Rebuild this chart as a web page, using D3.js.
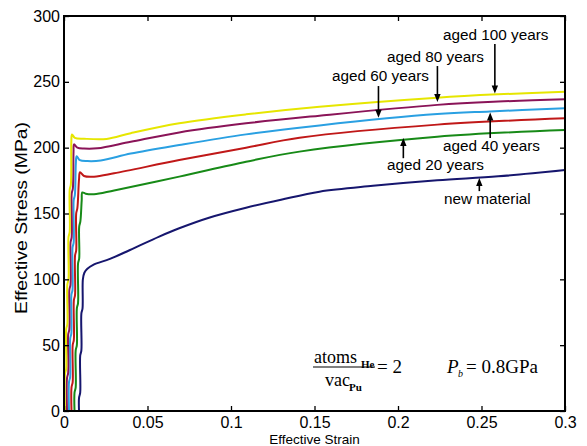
<!DOCTYPE html>
<html><head><meta charset="utf-8">
<script src="https://cdn.jsdelivr.net/npm/d3@7"></script>
<style>body{margin:0;background:#fff}svg{display:block}</style>
</head><body>
<svg id="c" width="587" height="446"></svg>
<script>
// ---- data: [effective strain, effective stress (MPa)] ----
const newMaterial = [[0.009,0],[0.009,10],[0.0097,14],[0.0097,42],[0.0104,46],[0.0104,74],[0.0111,78],[0.0113,100],[0.0122,105],[0.014,108],[0.0175,111],[0.0275,115.5],[0.0395,122.3],[0.057,132.5],[0.069,138.8],[0.0873,147],[0.109,154.4],[0.13,160.5],[0.153,166.6],[0.185,171],[0.2235,175.2],[0.26,178.2],[0.3,183]];
const aged20 = [[0.0063,0],[0.0063,14],[0.007,18],[0.007,46],[0.0077,50],[0.0077,78],[0.0084,82],[0.0084,112],[0.0091,116],[0.0091,140],[0.0098,144],[0.0106,160],[0.011,166],[0.013,165],[0.018,164.6],[0.03,167.5],[0.069,178],[0.109,189.3],[0.141,197],[0.2235,208.3],[0.3,213.4]];
const aged40 = [[0.0045,0],[0.0045,18],[0.0052,22],[0.0052,50],[0.0059,54],[0.0059,84],[0.0066,88],[0.0066,118],[0.0073,122],[0.0073,150],[0.008,154],[0.009,176],[0.0096,181.3],[0.012,178.5],[0.018,178],[0.03,180.5],[0.069,190.6],[0.109,200],[0.141,207.5],[0.2235,217.5],[0.3,222.3]];
const aged60 = [[0.003,0],[0.003,22],[0.0037,26],[0.0037,55],[0.0044,59],[0.0044,88],[0.0051,92],[0.0051,124],[0.0058,128],[0.0058,160],[0.0065,164],[0.0071,188],[0.0076,193.5],[0.0095,190.5],[0.014,189.8],[0.022,190.2],[0.04,195.5],[0.069,202],[0.109,210.1],[0.153,216.9],[0.2235,225.5],[0.255,227.5],[0.3,229.9]];
const aged80 = [[0.0018,0],[0.0018,25],[0.0025,29],[0.0025,58],[0.0032,62],[0.0032,92],[0.0039,96],[0.0039,128],[0.0046,132],[0.0046,165],[0.0053,169],[0.0057,197],[0.006,202.5],[0.008,200],[0.012,199.3],[0.02,199.5],[0.04,204.5],[0.069,211.6],[0.109,218.5],[0.153,224.3],[0.2235,232.5],[0.26,235],[0.3,236.7]];
const aged100 = [[0.0006,0],[0.0006,28],[0.0013,32],[0.0013,62],[0.002,66],[0.002,96],[0.0027,100],[0.0027,132],[0.0034,136],[0.0034,168],[0.0041,172],[0.0044,205],[0.0048,210],[0.0065,207.5],[0.012,206.8],[0.0255,206.6],[0.04,211],[0.069,218.5],[0.109,225.3],[0.153,231.1],[0.2235,238],[0.26,240.5],[0.3,242.5]];

const seriesNames = ["new material","aged 20 years","aged 40 years","aged 60 years","aged 80 years","aged 100 years"];
const seriesColors = ["#16166e","#178a17","#c01818","#2aa0e2","#8a1458","#e6e600"];
const seriesData = [newMaterial, aged20, aged40, aged60, aged80, aged100];

const xTicks = [0,0.05,0.1,0.15,0.2,0.25,0.3];
const xTickLabels = ["0","0.05","0.1","0.15","0.2","0.25","0.3"];
const yTicks = [0,50,100,150,200,250,300];
const yTickLabels = ["0","50","100","150","200","250","300"];

// annotation arrows: [strain, tail stress, tip stress]
const arrowData = [
  [0.2487,167,177],   // new material
  [0.2032,192,207.3], // aged 20
  [0.2552,207.3,226.7], // aged 40
  [0.1883,246.8,222.8], // aged 60
  [0.2236,262,234.7], // aged 80
  [0.258,278.7,241.2] // aged 100
];

// ---- layout ----
const L=64, R=565, T=16, B=411;
const svg = d3.select("#c");
const x = d3.scaleLinear().domain([0,0.3]).range([L,R]);
const y = d3.scaleLinear().domain([0,300]).range([B,T]);
const font = "'Liberation Sans', Arial, Helvetica, sans-serif";

// curves
const line = d3.line().x(d=>x(d[0])).y(d=>y(d[1])).curve(d3.curveCatmullRom.alpha(0.5));
svg.append("g").selectAll("path").data(seriesData).join("path")
  .attr("d", line).attr("fill","none")
  .attr("stroke",(d,i)=>seriesColors[i]).attr("stroke-width",2)
  .attr("stroke-linejoin","round");

// axes (ticks inward)
function styleAxis(g, showLabels){
  g.select(".domain").remove();
  g.selectAll(".tick line").attr("stroke","#000").attr("stroke-width",1.3);
  g.selectAll(".tick text").attr("fill","#000").style("font-family",font).style("font-size","16px");
  if(!showLabels) g.selectAll(".tick text").remove();
}
svg.append("g").attr("transform",`translate(0,${B})`)
  .call(d3.axisBottom(x).tickValues(xTicks).tickFormat((d,i)=>xTickLabels[i]).tickSizeInner(-5).tickSizeOuter(0).tickPadding(6))
  .call(g=>styleAxis(g,true));
svg.append("g").attr("transform",`translate(0,${T})`)
  .call(d3.axisTop(x).tickValues(xTicks).tickSizeInner(-5).tickSizeOuter(0))
  .call(g=>styleAxis(g,false));
svg.append("g").attr("transform",`translate(${L},0)`)
  .call(d3.axisLeft(y).tickValues(yTicks).tickFormat((d,i)=>yTickLabels[i]).tickSizeInner(-5).tickSizeOuter(0).tickPadding(4))
  .call(g=>styleAxis(g,true));
svg.append("g").attr("transform",`translate(${R},0)`)
  .call(d3.axisRight(y).tickValues(yTicks).tickSizeInner(-5).tickSizeOuter(0))
  .call(g=>styleAxis(g,false));

// frame
svg.append("rect").attr("x",L).attr("y",T).attr("width",R-L).attr("height",B-T)
  .attr("fill","none").attr("stroke","#000").attr("stroke-width",2);

// axis titles
svg.append("text").attr("x",(L+R)/2).attr("y",443.5).attr("text-anchor","middle")
  .style("font-family",font).style("font-size","13.5px").text("Effective Strain");
svg.append("text").attr("transform","translate(27,218) rotate(-90)").attr("text-anchor","middle")
  .attr("textLength",192).attr("lengthAdjust","spacingAndGlyphs")
  .style("font-family",font).style("font-size","16px").text("Effective Stress (MPa)");

// annotations
const labelPos = [[444,204],[387,170],[443,151],[332,81],[387,62],[443,40]];
svg.append("g").selectAll("text").data(seriesNames).join("text")
  .attr("x",(d,i)=>labelPos[i][0]).attr("y",(d,i)=>labelPos[i][1])
  .style("font-family",font).style("font-size","15.3px").attr("fill","#000").text(d=>d);

const ag = svg.append("g");
arrowData.forEach(a=>{
  const ax=x(a[0]), y0=y(a[1]), y1=y(a[2]);
  const dir = y1>y0 ? 1 : -1;
  const hl=8, hw=3.2;
  ag.append("line").attr("x1",ax).attr("x2",ax).attr("y1",y0).attr("y2",y1-dir*hl*0.6)
    .attr("stroke","#000").attr("stroke-width",1.6);
  ag.append("path").attr("d",`M${ax},${y1}L${ax-hw},${y1-dir*hl}L${ax+hw},${y1-dir*hl}Z`).attr("fill","#000");
});

// formula annotations
const serif = "'Liberation Serif','Times New Roman',Times,serif";
const fg = svg.append("g").style("font-family",serif).attr("fill","#000");
fg.append("text").attr("x",314).attr("y",363).style("font-size","18px").text("atoms");
fg.append("text").attr("x",361).attr("y",368).style("font-size","11px").style("font-weight","bold").text("He");
fg.append("line").attr("x1",313).attr("x2",375).attr("y1",367).attr("y2",367).attr("stroke","#000").attr("stroke-width",1.2);
fg.append("text").attr("x",325).attr("y",386).style("font-size","18px").text("vac");
fg.append("text").attr("x",349).attr("y",391).style("font-size","11px").style("font-weight","bold").text("Pu");
fg.append("text").attr("x",377).attr("y",373).style("font-size","19px").text("= 2");
fg.append("text").attr("x",447).attr("y",373).style("font-size","19px").style("font-style","italic").text("P");
fg.append("text").attr("x",458).attr("y",377).style("font-size","10px").style("font-style","italic").text("b");
fg.append("text").attr("x",466).attr("y",373).style("font-size","19px").text("= 0.8GPa");
</script>
</body></html>
